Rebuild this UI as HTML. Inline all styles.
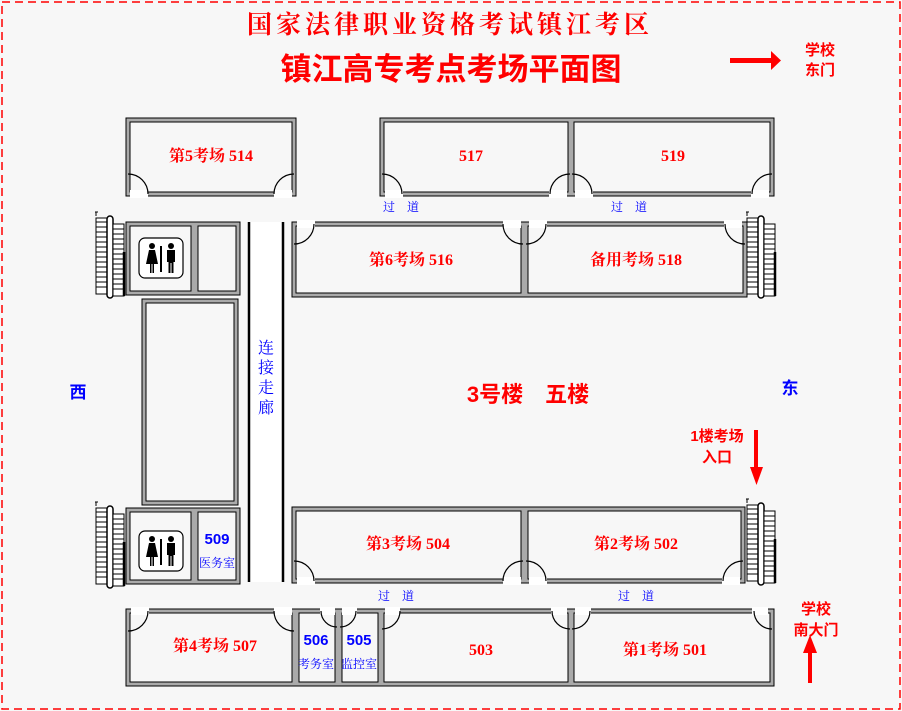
<!DOCTYPE html>
<html><head><meta charset="utf-8">
<style>
html,body{margin:0;padding:0;background:#f7f7f7;}
svg{display:block;}
text{font-family:"Liberation Serif","Noto Serif CJK SC",serif;}
.r{fill:#f00;}
.b{fill:#00f;}
.s{font-family:"Liberation Sans","Noto Sans CJK SC",sans-serif;font-weight:bold;}
</style></head><body>
<svg width="902" height="711" viewBox="0 0 902 711" xmlns="http://www.w3.org/2000/svg">
<defs>
<g id="st">
  <rect x="0" y="0" width="11" height="76" fill="#fff" stroke="#000" stroke-width="1"/>
  <path d="M0 4h11M0 9h11M0 14h11M0 19h11M0 24h11M0 29h11M0 34h11M0 39h11M0 44h11M0 49h11M0 54h11M0 59h11M0 64h11M0 69h11" stroke="#000" stroke-width="1"/>
  <rect x="11" y="-2" width="6" height="82" rx="3" fill="#fff" stroke="#000" stroke-width="1.5"/>
  <rect x="17" y="6" width="11" height="72" fill="#fff" stroke="#000" stroke-width="1"/>
  <path d="M17 11h11M17 16h11M17 21h11M17 26h11M17 31h11M17 36h11M17 41h11M17 46h11M17 51h11M17 56h11M17 61h11M17 66h11M17 71h11" stroke="#000" stroke-width="1"/>
  <path d="M28 34v44" stroke="#000" stroke-width="2.5"/>
  <path d="M0 -6v4M-1 -6h3" stroke="#000" stroke-width="1"/>
</g>
<g id="wc">
  <rect x="0" y="0" width="44" height="40" rx="6" fill="#fff" stroke="#000" stroke-width="1.2"/>
  <circle cx="13" cy="8" r="3" fill="#000"/>
  <path d="M10 12h6l3 14h-4v9h-1.5v-9h-1v9H11v-9H7z" fill="#000"/>
  <rect x="21" y="8" width="2" height="26" fill="#000"/>
  <circle cx="32" cy="8" r="3" fill="#000"/>
  <path d="M28 12h8v12h-1.5v11h-2v-10h-1v10h-2v-11H28z" fill="#000"/>
</g>
</defs>
<rect x="0" y="0" width="902" height="711" fill="#f7f7f7"/>
<rect x="2" y="2" width="898" height="707" fill="none" stroke="#f00" stroke-width="1.5" stroke-dasharray="8,5"/>

<text x="450" y="33" text-anchor="middle" class="r" font-size="25" font-weight="bold" letter-spacing="4">国家法律职业资格考试镇江考区</text>
<text x="451" y="80" text-anchor="middle" class="r s" font-size="31">镇江高专考点考场平面图</text>

<!-- arrows -->
<path d="M730 58h41v-7l10 9.5-10 9.5v-7h-41z" fill="#f00"/>
<text x="820" y="55" text-anchor="middle" class="r s" font-size="15">学校</text>
<text x="820" y="75" text-anchor="middle" class="r s" font-size="15">东门</text>
<path d="M754 430h4v37h5l-6.5 18-6.5-18h4z" fill="#f00"/>
<text x="717" y="441" text-anchor="middle" class="r s" font-size="15">1楼考场</text>
<text x="717" y="462" text-anchor="middle" class="r s" font-size="15">入口</text>
<path d="M808 683v-30h-5l7-18 7 18h-5v30z" fill="#f00"/>
<text x="816" y="614" text-anchor="middle" class="r s" font-size="15">学校</text>
<text x="816" y="635" text-anchor="middle" class="r s" font-size="15">南大门</text>

<text x="78" y="398" text-anchor="middle" class="b s" font-size="17">西</text>
<text x="790" y="394" text-anchor="middle" class="b s" font-size="17">东</text>
<text x="528" y="402" text-anchor="middle" class="r s" font-size="22">3号楼　五楼</text>

<!-- corridor -->
<rect x="248" y="222" width="36" height="360" fill="#fff"/>
<path d="M249 222v360M283 222v360" stroke="#000" stroke-width="2.5"/>
<text class="b" font-size="16" text-anchor="middle"><tspan x="266" y="353">连</tspan><tspan x="266" y="373">接</tspan><tspan x="266" y="393">走</tspan><tspan x="266" y="413">廊</tspan></text>

<!-- walls -->
<g id="walls" fill="none" stroke="#000" stroke-width="5">
<rect x="128" y="120" width="166" height="74"/>
<rect x="382" y="120" width="188" height="74"/>
<rect x="572" y="120" width="200" height="74"/>
<rect x="294" y="224" width="229" height="71"/>
<rect x="526" y="224" width="219" height="71"/>
<rect x="128" y="224" width="65" height="69"/>
<rect x="196" y="224" width="42" height="69"/>
<rect x="144" y="301" width="92" height="202"/>
<rect x="128" y="510" width="65" height="72"/>
<rect x="196" y="510" width="42" height="72"/>
<rect x="294" y="509" width="229" height="72"/>
<rect x="526" y="509" width="217" height="72"/>
<rect x="128" y="611" width="166" height="73"/>
<rect x="297" y="611" width="40" height="73"/>
<rect x="340" y="611" width="40" height="73"/>
<rect x="382" y="611" width="188" height="73"/>
<rect x="572" y="611" width="200" height="73"/>
</g>
<g fill="none" stroke="#aaa" stroke-width="3">
<rect x="128" y="120" width="166" height="74"/>
<rect x="382" y="120" width="188" height="74"/>
<rect x="572" y="120" width="200" height="74"/>
<rect x="294" y="224" width="229" height="71"/>
<rect x="526" y="224" width="219" height="71"/>
<rect x="128" y="224" width="65" height="69"/>
<rect x="196" y="224" width="42" height="69"/>
<rect x="144" y="301" width="92" height="202"/>
<rect x="128" y="510" width="65" height="72"/>
<rect x="196" y="510" width="42" height="72"/>
<rect x="294" y="509" width="229" height="72"/>
<rect x="526" y="509" width="217" height="72"/>
<rect x="128" y="611" width="166" height="73"/>
<rect x="297" y="611" width="40" height="73"/>
<rect x="340" y="611" width="40" height="73"/>
<rect x="382" y="611" width="188" height="73"/>
<rect x="572" y="611" width="200" height="73"/>
</g>

<!-- door gaps -->
<g fill="#fff">
<rect x="130" y="190" width="18" height="8"/><rect x="274" y="190" width="18" height="8"/>
<rect x="385" y="190" width="18" height="8"/><rect x="549" y="190" width="18" height="8"/>
<rect x="575" y="190" width="18" height="8"/><rect x="751" y="190" width="18" height="8"/>
<rect x="297" y="220" width="18" height="8"/><rect x="503" y="220" width="18" height="8"/>
<rect x="529" y="220" width="18" height="8"/><rect x="724" y="220" width="18" height="8"/>
<rect x="297" y="577" width="18" height="8"/><rect x="503" y="577" width="18" height="8"/>
<rect x="529" y="577" width="18" height="8"/><rect x="722" y="577" width="18" height="8"/>
<rect x="131" y="607" width="18" height="8"/><rect x="274" y="607" width="18" height="8"/>
<rect x="320" y="607" width="15" height="8"/><rect x="342" y="607" width="15" height="8"/>
<rect x="385" y="607" width="15" height="8"/><rect x="551" y="607" width="16" height="8"/>
<rect x="575" y="607" width="16" height="8"/><rect x="752" y="607" width="16" height="8"/>
</g>
<g fill="none" stroke="#000" stroke-width="1.2">
<path d="M128 174A20 20 0 0 1 148 194M274 194A20 20 0 0 1 294 174"/>
<path d="M382 174A20 20 0 0 1 402 194M550 194A20 20 0 0 1 570 174"/>
<path d="M572 174A20 20 0 0 1 592 194M752 194A20 20 0 0 1 772 174"/>
<path d="M314 224A20 20 0 0 1 294 244M503 224A20 20 0 0 0 523 244"/>
<path d="M546 224A20 20 0 0 1 526 244M725 224A20 20 0 0 0 745 244"/>
<path d="M294 561A20 20 0 0 1 314 581M503 581A20 20 0 0 1 523 561"/>
<path d="M526 561A20 20 0 0 1 546 581M723 581A20 20 0 0 1 743 561"/>
<path d="M148 611A20 20 0 0 1 128 631M274 611A20 20 0 0 0 294 631"/>
<path d="M321 611A16 16 0 0 0 337 627M356 611A16 16 0 0 1 340 627"/>
<path d="M400 611A18 18 0 0 1 382 629M552 611A18 18 0 0 0 570 629"/>
<path d="M590 611A18 18 0 0 1 572 629M754 611A18 18 0 0 0 772 629"/>
</g>

<!-- stairs -->
<use href="#st" x="96" y="218"/>
<use href="#st" x="96" y="508"/>
<use href="#st" x="747" y="218"/>
<use href="#st" x="747" y="505"/>

<use href="#wc" x="139" y="238"/>
<use href="#wc" x="139" y="531"/>

<!-- labels -->
<g class="r" font-size="16" font-weight="bold" text-anchor="middle">
<text x="211" y="161">第5考场  514</text>
<text x="471" y="161">517</text>
<text x="673" y="161">519</text>
<text x="411" y="265">第6考场  516</text>
<text x="636" y="265">备用考场  518</text>
<text x="408" y="549">第3考场  504</text>
<text x="636" y="549">第2考场  502</text>
<text x="215" y="651">第4考场  507</text>
<text x="481" y="655">503</text>
<text x="665" y="655">第1考场  501</text>
</g>
<g class="b" text-anchor="middle">
<text x="217" y="544" font-size="15" class="s">509</text>
<text x="217" y="567" font-size="12">医务室</text>
<text x="316" y="645" font-size="15" class="s">506</text>
<text x="316" y="668" font-size="12">考务室</text>
<text x="359" y="645" font-size="15" class="s">505</text>
<text x="359" y="668" font-size="12">监控室</text>
<text x="401" y="211" font-size="12">过　道</text>
<text x="629" y="211" font-size="12">过　道</text>
<text x="396" y="600" font-size="12">过　道</text>
<text x="636" y="600" font-size="12">过　道</text>
</g>
</svg>
</body></html>
